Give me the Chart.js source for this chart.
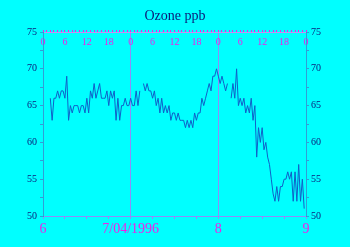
<!DOCTYPE html>
<html>
<head>
<meta charset="utf-8">
<script src="https://cdn.jsdelivr.net/npm/chart.js@4/dist/chart.umd.min.js"></script>
<style>
html,body{margin:0;padding:0;background:#00ffff;}
#wrap{width:350px;height:247px;position:relative;}
</style>
</head>
<body>
<div id="wrap"><canvas id="c" width="350" height="247"></canvas></div>
<script>
// Half-hourly ozone readings (ppb), starting 6/04/1996 02:00, one every 0.5 h
const startHour = 2;
const stepHours = 0.5;
const ozone = [
  66,63,66,66,67,66,67,67,66,69,63,65,64,65,65,65,64,65,65,64,
  66,64,67,66,68,66,67,68,66,66,66,67,65,67,66,67,63,66,63,65,
  65,66,65,65,66,65,65,67,65,67,null,68,67,68,67,67,66,67,65,66,
  64,66,64,65,64,65,63,64,64,63,64,63,63,63,62,63,62,63,62,64,
  63,64,64,66,65,66,67,68,67,69,69,70,69,68,69,68,67,68,null,66,
  68,66,70,65,66,65,66,64,65,64,66,63,65,58,62,60,62,59,60,58,
  57,55,53,52,54,52,54,54,55,55,56,55,56,52,56,52,57,52,55,51
];
// Axis tick labels
const bottomTickHours = [0, 24, 48, 72];
const bottomTickLabels = ['6', '7/04/1996', '8', '9'];
const topTickLabels = ['0', '6', '12', '18'];
const yMin = 50, yMax = 75;

const serif = "'Liberation Serif','Times New Roman',serif";
const points = ozone.map((v, i) => ({x: startHour + i * stepHours, y: v}));

const tealAxis = '#2f9fd6';
const purpleLine = '#8f8cf8';
const magenta = '#f020e8';
const navy = '#0c1a78';

new Chart(document.getElementById('c'), {
  type: 'line',
  data: {
    datasets: [{
      data: points,
      borderColor: '#1060c8',
      borderWidth: 1,
      pointRadius: 0,
      tension: 0,
      spanGaps: false,
      fill: false
    }]
  },
  options: {
    responsive: false,
    devicePixelRatio: 1,
    animation: false,
    layout: {padding: 0},
    plugins: {
      legend: {display: false},
      tooltip: {enabled: false},
      title: {
        display: true,
        text: 'Ozone ppb',
        color: navy,
        font: {family: serif, size: 14, weight: 'normal'},
        padding: {top: 7.5, bottom: 2.5}
      }
    },
    scales: {
      x: {
        type: 'linear', position: 'bottom', min: 0, max: 72,
        afterFit: s => { s.height = 31; },
        afterBuildTicks: s => { s.ticks = [0,6,12,18,24,30,36,42,48,54,60,66,72].map(v => ({value: v})); },
        ticks: {
          autoSkip: false, maxRotation: 0, padding: 1.5,
          color: magenta,
          font: {family: serif, size: 14},
          callback: v => { const k = bottomTickHours.indexOf(v); return k >= 0 ? bottomTickLabels[k] : ''; }
        },
        grid: {
          drawOnChartArea: true,
          color: c => (c.tick && (c.tick.value === 24 || c.tick.value === 48)) ? purpleLine : 'rgba(0,0,0,0)',
          tickColor: purpleLine,
          tickLength: 3
        },
        border: {color: purpleLine}
      },
      xTop: {
        type: 'linear', position: 'top', min: 0, max: 72,
        afterFit: s => { s.height = 32 - 26.8; },
        afterBuildTicks: s => { const t = []; for (let h = 0; h <= 72; h++) t.push({value: h}); s.ticks = t; },
        ticks: {
          autoSkip: false, maxRotation: 0, mirror: true, padding: 4,
          color: magenta,
          font: {family: serif, size: 10},
          callback: v => (v % 6 === 0) ? topTickLabels[(v % 24) / 6] : ''
        },
        grid: {drawOnChartArea: false, tickColor: magenta, tickLength: 2},
        border: {color: '#c890f0'}
      },
      y: {
        position: 'left', min: yMin, max: yMax,
        afterFit: s => { s.width = 43; },
        afterBuildTicks: s => { const t = []; for (let v = yMin; v <= yMax; v += 2.5) t.push({value: v}); s.ticks = t; },
        ticks: {
          autoSkip: false, padding: 3, color: navy,
          font: {family: serif, size: 10},
          callback: v => (v % 5 === 0) ? String(v) : ''
        },
        grid: {drawOnChartArea: false, tickColor: tealAxis, tickLength: 3},
        border: {color: tealAxis}
      },
      yRight: {
        position: 'right', min: yMin, max: yMax,
        afterFit: s => { s.width = 44; },
        afterBuildTicks: s => { const t = []; for (let v = yMin; v <= yMax; v += 2.5) t.push({value: v}); s.ticks = t; },
        ticks: {
          autoSkip: false, padding: 2, color: navy,
          font: {family: serif, size: 10},
          callback: v => (v % 5 === 0) ? String(v) : ''
        },
        grid: {drawOnChartArea: false, tickColor: tealAxis, tickLength: 3},
        border: {color: tealAxis}
      }
    }
  }
});
</script>
</body>
</html>
